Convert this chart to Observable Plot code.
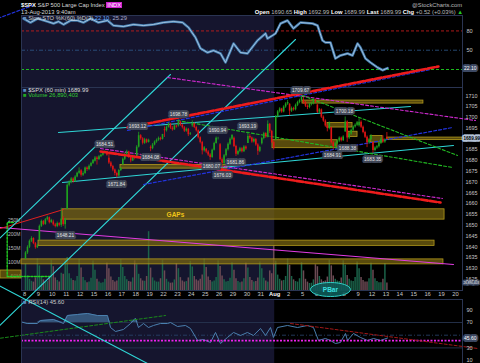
<!DOCTYPE html>
<html><head><meta charset="utf-8">
<script src="https://cdn.jsdelivr.net/npm/d3@7"></script>
<script src="https://cdn.jsdelivr.net/npm/@observablehq/plot@0.6"></script>
<style>
html,body{margin:0;padding:0;background:#000;}
#c{position:relative;width:480px;height:363px;overflow:hidden;background:#000;font-family:"Liberation Sans",Arial,sans-serif;}
#c svg{position:absolute;left:0;}
.t{position:absolute;white-space:nowrap;font-size:5.8px;line-height:6px;color:#d8d8d8;}
</style></head>
<body><div id="c"></div>
<script>
// ---------------- DATA ----------------
const dayLabels = ["8","9","10","11","12","15","16","17","18","19","22","23","24","25","26","29","30","31","Aug","2","5","6","7","8","9","12","13","14","15","16","19","20"];
const augIndex = 18;
const dayOpen = [1634.2,1642.89,1651.56,1657.41,1675.26,1679.69,1681.05,1677.91,1681.05,1686.15,1694.41,1696.06,1696.06,1685.21,1687.31,1690.32,1687.92,1687.76,1689.42,1706.10,1708.01,1705.79,1695.30,1693.35,1696.10,1688.37,1690.65];
const barClose = [
 [1637.2,1639.8,1642.6,1643.9,1641.5,1639.6,1640.5],
 [1649.5,1651.8,1650.4,1652.6,1653.5,1651.2,1652.3],
 [1650.2,1649.4,1650.8,1650.0,1652.9,1650.3,1652.6],
 [1668.5,1669.8,1671.5,1670.2,1672.4,1674.1,1675.0],
 [1673.2,1674.0,1676.5,1675.8,1677.4,1678.6,1680.2],
 [1681.2,1680.5,1681.8,1682.4,1683.5,1684.0,1682.5],
 [1678.9,1677.2,1675.6,1674.0,1672.8,1675.4,1676.3],
 [1680.6,1682.9,1684.0,1681.5,1679.8,1681.9,1680.9],
 [1686.2,1691.5,1690.1,1688.0,1689.6,1688.4,1689.4],
 [1685.5,1687.2,1688.6,1689.4,1690.3,1689.8,1692.1],
 [1693.8,1695.4,1696.9,1695.0,1694.2,1696.0,1695.5],
 [1697.9,1696.4,1695.2,1693.6,1694.5,1692.0,1692.4],
 [1697.0,1695.3,1693.8,1690.6,1688.4,1684.5,1685.9],
 [1684.0,1682.6,1681.4,1684.8,1687.9,1690.3,1690.3],
 [1680.4,1678.5,1682.2,1685.0,1687.6,1689.9,1691.7],
 [1686.5,1682.9,1684.2,1685.5,1684.1,1686.3,1685.3],
 [1691.2,1690.4,1688.6,1689.8,1687.2,1684.3,1686.0],
 [1690.2,1692.5,1691.0,1696.8,1693.5,1688.4,1685.7],
 [1700.3,1702.6,1703.9,1702.5,1704.8,1706.2,1706.9],
 [1702.9,1704.1,1703.5,1705.6,1706.9,1707.8,1709.7],
 [1706.8,1705.2,1704.6,1705.9,1706.4,1708.0,1707.1],
 [1702.4,1703.5,1700.1,1698.3,1696.0,1694.8,1697.4],
 [1688.2,1686.5,1687.8,1689.0,1690.4,1689.2,1690.9],
 [1697.9,1690.5,1692.3,1694.0,1695.5,1696.4,1697.5],
 [1697.8,1695.4,1693.0,1690.8,1688.2,1689.6,1691.4],
 [1684.6,1685.8,1686.4,1688.0,1689.9,1688.6,1689.5],
 [1689.99]
];
const barHigh = [
 [1637.8,1640.5,1643.2,1644.7,1644.2,1642.0,1641.2],
 [1650.1,1652.4,1652.2,1653.1,1654.2,1653.8,1652.8],
 [1652.4,1650.9,1651.5,1651.2,1657.9,1654.0,1653.2],
 [1669.2,1670.6,1672.1,1672.0,1673.0,1674.6,1676.6],
 [1675.8,1674.8,1677.0,1677.1,1678.0,1679.2,1680.2],
 [1681.9,1681.8,1682.4,1683.0,1684.1,1684.5,1684.3],
 [1683.7,1679.5,1677.8,1676.1,1674.6,1675.9,1676.9],
 [1681.2,1683.5,1684.8,1684.3,1682.0,1682.5,1682.2],
 [1686.9,1693.1,1692.0,1690.6,1690.3,1690.0,1689.9],
 [1686.8,1687.9,1689.1,1690.0,1690.9,1690.8,1692.1],
 [1695.6,1696.0,1697.6,1697.2,1695.7,1696.5,1696.4],
 [1698.8,1698.2,1696.9,1695.8,1695.1,1694.9,1693.0],
 [1698.4,1697.5,1695.9,1694.2,1691.0,1688.9,1686.5],
 [1685.6,1684.6,1683.2,1685.3,1688.5,1690.9,1690.8],
 [1687.9,1681.2,1682.8,1685.6,1688.2,1690.5,1691.9],
 [1690.9,1687.1,1684.8,1686.1,1686.0,1686.9,1686.8],
 [1693.2,1692.0,1690.9,1690.4,1690.2,1687.8,1686.6],
 [1690.8,1693.1,1692.9,1698.4,1697.2,1694.0,1689.0],
 [1700.9,1703.2,1704.5,1704.2,1705.4,1706.8,1707.9],
 [1706.3,1704.8,1704.7,1706.2,1707.5,1708.4,1709.7],
 [1709.2,1707.4,1705.8,1706.5,1707.0,1708.6,1708.5],
 [1705.8,1704.1,1703.9,1700.7,1698.9,1696.6,1697.9],
 [1695.3,1688.9,1688.4,1689.6,1691.0,1690.9,1691.5],
 [1700.2,1698.4,1693.0,1694.6,1696.1,1697.0,1698.1],
 [1699.4,1698.4,1696.0,1693.6,1691.4,1690.2,1692.0],
 [1688.4,1686.4,1687.0,1688.6,1690.5,1691.5,1690.1],
 [1692.99]
];
const barLow = [
 [1634.2,1636.5,1639.2,1642.0,1641.0,1638.9,1639.2],
 [1642.9,1649.0,1649.8,1650.0,1652.0,1650.6,1650.9],
 [1649.6,1648.8,1648.9,1649.3,1649.0,1649.5,1648.2],
 [1657.4,1667.8,1669.2,1669.5,1669.9,1672.0,1673.6],
 [1672.3,1672.6,1673.6,1675.0,1675.3,1677.0,1678.2],
 [1679.3,1677.9,1680.0,1681.3,1682.0,1683.2,1682.0],
 [1678.2,1676.5,1674.8,1672.9,1671.8,1672.5,1674.9],
 [1677.9,1680.0,1682.4,1680.9,1678.9,1679.5,1680.3],
 [1681.1,1685.8,1689.4,1687.2,1687.5,1687.8,1688.1],
 [1684.1,1685.0,1686.8,1688.0,1688.9,1689.1,1689.5],
 [1690.7,1693.2,1695.0,1694.4,1693.6,1694.0,1695.0],
 [1695.5,1695.8,1694.6,1693.0,1693.1,1691.1,1691.6],
 [1695.4,1694.8,1693.2,1690.0,1687.7,1682.6,1683.9],
 [1683.2,1681.9,1680.1,1681.0,1684.4,1687.6,1689.5],
 [1679.8,1676.0,1678.0,1681.6,1684.4,1687.0,1689.3],
 [1686.0,1681.9,1682.3,1683.6,1683.5,1683.7,1684.7],
 [1687.9,1689.8,1688.0,1688.1,1686.6,1682.4,1683.7],
 [1687.2,1689.6,1690.3,1690.5,1692.6,1687.8,1684.9],
 [1689.4,1699.7,1702.0,1701.9,1702.1,1704.2,1705.6],
 [1700.7,1702.3,1702.9,1703.0,1705.0,1706.3,1707.2],
 [1706.1,1704.6,1703.6,1704.0,1705.3,1705.8,1706.5],
 [1701.8,1701.6,1699.5,1697.7,1695.4,1693.3,1694.2],
 [1687.6,1684.9,1685.9,1687.2,1688.3,1688.6,1688.8],
 [1693.0,1688.4,1689.8,1691.7,1693.4,1695.0,1695.8],
 [1695.5,1694.8,1692.4,1690.2,1686.0,1687.6,1689.0],
 [1683.4,1684.0,1685.2,1685.8,1687.4,1688.0,1688.0],
 [1689.99]
];
const barVolM = [
 [95,52,40,33,30,45,112],[88,50,38,30,32,48,108],[85,45,36,30,62,58,110],
 [118,60,42,36,34,50,112],[80,46,35,28,30,44,105],[72,40,30,26,28,40,98],
 [78,48,36,30,34,46,110],[82,50,38,32,30,45,106],[92,58,42,34,33,50,210],
 [80,45,34,30,30,42,108],[70,40,30,26,27,38,96],[78,46,34,30,32,45,104],
 [84,50,38,34,40,55,112],[82,48,36,30,34,46,106],[86,52,38,30,32,44,100],
 [72,42,32,28,30,42,98],[80,46,36,30,32,45,102],[78,44,34,30,70,60,160],
 [105,55,40,34,36,50,112],[90,50,38,32,30,42,100],[70,40,30,25,26,38,92],
 [85,50,38,32,34,48,108],[88,52,40,34,32,45,106],[90,54,40,34,32,46,102],
 [78,46,36,30,30,42,98],[72,42,32,28,28,40,96],[26.89]
];
const barsPerDay = 7;

const hiLabels = [
 {t:5.76,p:1684.51},{t:8.13,p:1693.12},{t:11.08,p:1698.78},{t:13.88,p:1690.94},
 {t:16.04,p:1693.19},{t:19.86,p:1709.67},{t:23.02,p:1700.18}
];
const loLabels = [
 {t:2.95,p:1648.21},{t:6.62,p:1671.84},{t:9.07,p:1684.08},{t:13.45,p:1680.07},{t:14.24,p:1676.03},
 {t:15.18,p:1681.86},{t:22.16,p:1684.91},{t:23.24,p:1688.38},{t:25.04,p:1683.35}
];

// gap zones [t1, t2, p1, p2]
const gapZones = [
 [2.734,30.22,1652.62,1657.41],
 [1.007,29.5,1640.46,1642.89],
 [-0.216,30.14,1631.89,1634.2],
 [-1.727,-0.216,1625.34,1629.05],
 [6.906,14.6,1676.26,1677.91],
 [17.84,22.52,1685.73,1689.42],
 [20.0,28.7,1706.4,1707.8],
 [21.8,23.6,1695.30,1697.37],
 [23.3,23.96,1690.91,1693.35],
 [24.9,25.76,1688.37,1691.42],
 [26.1,31.5,1689.47,1690.65]
];

// trend lines: [[t,p],[t,p]]
const cyanLines = [
 [[-3,1636.5],[10.504,1719.87]],
 [[-3.9,1590.41],[19.496,1736.09]],
 [[-3,1625.93],[8.849,1585.95]],
 [[2.446,1692.99],[27.77,1705.04]],
 [[2.734,1669.82],[30.86,1686.97]]
];
const redThick = [
 [[7.41,1695.31],[29.78,1723.58]],
 [[5.468,1684.19],[29.93,1660.56]]
];
const redThin = [[[-1.727,1648.51],[2.806,1657.31]]];
const blueDashed = [
 [[7.41,1693.92],[29.21,1722.19]],
 [[8.561,1668.90],[30.79,1695.31]],
 [[-1.9,1745.9],[0.576,1751.84]]
];
const magentaDashed = [
 [[5.468,1685.58],[30.07,1662.41]],
 [[10.29,1718.48],[32.45,1698.55]]
];
const magentaSolid = [[[-1.727,1648.97],[30.86,1631.83]]];
const greenDashed = [
 [[20.0,1710.14],[31.15,1682.35]],
 [[11.0,1698.55],[30.79,1676.78]]
];
const greenBracket = [[-0.79,1651.29],[-1.245,1651.29],[-1.245,1626.27],[1.871,1626.27]];

const priceTicks = [1625,1630,1635,1640,1645,1650,1655,1660,1665,1670,1675,1680,1685,1695,1700,1705,1710];
const lastPrice = 1689.99;
const volTicksM = [50,100,150,200,250];
const lastVolume = "26,890,403";
const pbar = [{t:22.01,p:1620.24,label:"PBar"}];
const gapText = [{t:10.86,p:1654.9,label:"GAPs"}];

// Slow stochastic %K(60) %D(3)
const stoT = [-0.07,0.43,0.94,1.65,2.09,2.45,2.81,3.31,3.81,4.24,4.75,5.32,5.97,6.40,7.12,7.84,8.56,9.28,10.0,10.72,11.37,11.80,12.30,12.66,13.17,13.60,14.10,14.46,15.04,15.54,16.04,16.76,17.34,17.48,17.84,18.06,18.42,18.92,19.35,19.86,20.72,21.08,21.44,21.65,22.01,22.37,22.73,23.24,23.60,23.96,24.17,24.53,24.89,25.40,25.76,26.12];
const stoV = [99.3,93.1,99.3,94.6,91.5,94.6,90.0,96.2,96.2,93.1,99.3,93.1,96.2,88.4,86.9,90.0,88.4,90.0,93.1,94.6,93.1,85.3,69.8,52.7,46.4,49.5,44.9,30.9,60.4,46.4,44.9,65.1,76.0,68.2,72.9,76.0,91.5,96.2,83.8,93.1,91.5,88.4,65.1,62.0,62.0,37.1,41.8,44.9,41.8,60.4,54.2,37.1,30.9,23.1,18.9,22.1];
const stoLevels = [80,50,20];
const stoLast = 22.10;

// RSI(14)
const rsiT = [-0.17,0.19,0.91,1.15,2.09,2.81,3.09,3.81,4.53,5.25,5.97,6.19,6.55,7.12,7.63,7.99,8.20,8.56,8.92,9.28,9.78,10.29,10.50,11.01,11.58,11.94,12.45,12.88,13.38,13.74,14.10,14.60,15.04,15.54,16.04,16.47,16.98,17.34,17.70,17.91,18.20,18.92,19.64,20.36,20.79,21.15,21.65,22.01,22.37,22.73,23.09,23.24,23.67,24.17,24.68,25.11,25.61,26.12];
const rsiV = [70.5,68.4,68.4,73.1,74.7,68.4,81.0,82.6,84.2,81.0,81.0,62.1,55.8,59.0,68.4,76.3,62.1,68.4,62.1,65.3,68.4,68.4,70.0,63.7,65.3,60.6,41.7,43.2,38.5,54.3,36.9,46.4,54.3,49.5,54.3,49.5,60.6,49.5,62.1,46.4,62.1,65.3,62.1,65.3,62.1,41.7,44.8,41.7,36.9,38.5,52.7,41.7,52.7,46.4,41.7,44.8,41.7,45.6];
const rsiTicks = [90,70,30,10];
const rsiLast = 45.60;
const rsiMagenta = 41.5;
const rsiRedLine = [[19.14,68.4],[32.59,29.1]];
const rsiGreenLine = [[-1.727,45.3],[10.14,81.0]];

// ---------------- BUILD ----------------
const bars = [];
barClose.forEach((cl, d) => cl.forEach((c, j) => {
  const o = j === 0 ? dayOpen[d] : cl[j-1];
  bars.push({t: d + (j + 0.5)/barsPerDay, o, c, h: barHigh[d][j], l: barLow[d][j], v: barVolM[d][j], up: c >= o});
}));
const sto = stoT.map((t,i)=>({t, v: stoV[i]}));
const rsi = rsiT.map((t,i)=>({t, v: rsiV[i]}));
const seg = (arr) => arr.map((pts, k) => pts.map(([t,p]) => ({t, p, k}))).flat();

const XD = [-0.2158, 31.511];
const NAVY = "#15152e", FRAME = "#2a3452";
const C = document.getElementById("c");
const base = {width: 480, marginLeft: 21, marginRight: 18, marginTop: 0, marginBottom: 0,
  x: {domain: XD, axis: null}, color: {type: "identity"},
  style: {background: "transparent", overflow: "visible", fontFamily: "Liberation Sans, Arial, sans-serif"}};
function place(svg, top){ svg.style.top = top + "px"; svg.style.position = "absolute"; C.appendChild(svg); }
const lineMarks = (arr, opts) => Plot.line(seg(arr), {x:"t", y:"p", z:"k", clip:false, ...opts});
const num = d => String(d);

// --- STO panel
const STOD = [-8, 104];
place(Plot.plot({...base, height: 72, y: {domain: STOD, axis: null},
  marks: [
    Plot.rect([{a: XD[0], b: augIndex}], {x1:"a", x2:"b", y1: STOD[0], y2: STOD[1], fill: NAVY}),
    Plot.ruleY([stoLevels[0]], {stroke:"#c01c1c", strokeDasharray:"3,2", strokeWidth:0.9}),
    Plot.ruleY([stoLevels[1]], {stroke:"#2f5a8c", strokeDasharray:"4,2,1,2", strokeWidth:0.8}),
    Plot.ruleY([stoLevels[2]], {stroke:"#1ed01e", strokeDasharray:"3,2", strokeWidth:0.9}),
    Plot.line(sto, {x:"t", y:"v", stroke:"#3f78aa", strokeWidth:2.6}),
    Plot.line(sto, {x:"t", y:"v", stroke:"#cfe3f5", strokeWidth:0.7}),
    Plot.frame({stroke: FRAME}),
    Plot.text([80,50], {x: XD[1], y: d=>d, dx: 4, text: num, textAnchor:"start", fill:"#c8c8c8", fontSize: 5.6}),
    Plot.text([stoLast], {x: XD[1], y: d=>d, dx: 1.5, textAnchor:"start", text: d=>d.toFixed(2), fill:"#fff", stroke:"#3c4862", strokeWidth:4, paintOrder:"stroke", fontSize:5})
  ]}), 15);

// --- RSI panel (with date labels on top)
const RSID = [5.43, 106.2];
place(Plot.plot({...base, height: 73, marginTop: 9, y: {domain: RSID, axis: null},
  marks: [
    Plot.rect([{a: XD[0], b: augIndex}], {x1:"a", x2:"b", y1: RSID[0], y2: RSID[1], fill: NAVY}),
    Plot.ruleY([70, 30], {stroke:"#27344f", strokeWidth:0.9}),
    Plot.ruleY([50], {stroke:"#2b4670", strokeDasharray:"4,2,1,2", strokeWidth:0.8}),
    Plot.areaY(rsi, {x:"t", y1:70, y2: d => Math.max(d.v, 70), fill:"#3a5f86", fillOpacity:0.85}),
    Plot.line(rsi, {x:"t", y:"v", stroke:"#4a7fae", strokeWidth:1}),
    Plot.ruleY([rsiMagenta], {stroke:"#ee22ee", strokeDasharray:"2,1.5", strokeWidth:1.6}),
    Plot.line(rsiRedLine.map(([t,v])=>({t,v})), {x:"t", y:"v", stroke:"#a01818", strokeDasharray:"3,2", strokeWidth:1, clip:false}),
    Plot.line(rsiGreenLine.map(([t,v])=>({t,v})), {x:"t", y:"v", stroke:"#1a8a1a", strokeDasharray:"3,2", strokeWidth:1, clip:false}),
    Plot.frame({stroke: FRAME}),
    Plot.text(dayLabels.map((s,i)=>i).filter(i=>i!==augIndex), {x: d=>d, y: RSID[1], dy: -5, text: d=>dayLabels[d], fill:"#c8c8c8", fontSize:5.8}),
    Plot.text([augIndex], {x: d=>d, y: RSID[1], dy: -5, text: d=>dayLabels[d], fill:"#ffffff", fontWeight:"bold", fontSize:5.8}),
    Plot.text(rsiTicks, {x: XD[1], y: d=>d, dx: 4, text: num, textAnchor:"start", fill:"#c8c8c8", fontSize:5.6}),
    Plot.text([rsiLast], {x: XD[1], y: d=>d, dx: 1.5, textAnchor:"start", text: d=>d.toFixed(2), fill:"#fff", stroke:"#3c4862", strokeWidth:4, paintOrder:"stroke", fontSize:5})
  ]}), 290);

// --- Volume (under price)
const VOLD = [0, 725];
place(Plot.plot({...base, height: 203, y: {domain: VOLD, axis: null},
  marks: [
    Plot.rect([{a: XD[0], b: augIndex}], {x1:"a", x2:"b", y1: VOLD[0], y2: VOLD[1], fill: NAVY}),
    Plot.ruleX(bars, {x:"t", y1: 0, y2:"v", stroke: d => d.up ? "#1b6249" : "#6c4a54", strokeWidth: 1.5}),
    Plot.frame({stroke: FRAME}),
    Plot.text(volTicksM, {x: XD[0], y: d=>d, dx: -1, textAnchor:"end", text: d=>d+"M", fill:"#bcbcbc", fontSize:5}),
    Plot.text([26.89], {x: XD[1], y: d=>d, dx: 1, textAnchor:"start", text: ()=>lastVolume, fill:"#fff", stroke:"#3c4862", strokeWidth:3, paintOrder:"stroke", fontSize:3.1})
  ]}), 87);

// --- Price panel (top layer)
const PD = [1619.78, 1713.85];
const ellipse = {draw(ctx){ const rx=20, ry=7, k=0.5523;
  ctx.moveTo(rx,0); ctx.bezierCurveTo(rx,ry*k,rx*k,ry,0,ry); ctx.bezierCurveTo(-rx*k,ry,-rx,ry*k,-rx,0);
  ctx.bezierCurveTo(-rx,-ry*k,-rx*k,-ry,0,-ry); ctx.bezierCurveTo(rx*k,-ry,rx,-ry*k,rx,0); ctx.closePath(); }};
place(Plot.plot({...base, height: 203, y: {domain: PD, axis: null},
  marks: [
    Plot.rect(gapZones, {x1: d=>d[0], x2: d=>d[1], y1: d=>d[2], y2: d=>d[3], fill:"#7a6710", fillOpacity:0.72, stroke:"#b39a1c", strokeWidth:0.8, clip:false}),
    Plot.text(gapText, {x:"t", y:"p", text:"label", fill:"#f0c418", fontWeight:"bold", fontSize:6.5}),
    lineMarks(magentaSolid, {stroke:"#e23ce2", strokeWidth:1.2}),
    lineMarks(redThin, {stroke:"#e02020", strokeWidth:1}),
    Plot.line(greenBracket.map(([t,p])=>({t,p})), {x:"t", y:"p", stroke:"#22cc22", strokeDasharray:"2,1.5", strokeWidth:1.4, clip:false}),
    lineMarks(cyanLines, {stroke:"#2fd6d6", strokeWidth:1.1}),
    lineMarks(blueDashed, {stroke:"#2233dd", strokeDasharray:"3,2", strokeWidth:1.2}),
    lineMarks(magentaDashed, {stroke:"#d22ad2", strokeDasharray:"3,2", strokeWidth:1.1}),
    lineMarks(greenDashed, {stroke:"#22b822", strokeDasharray:"3,2", strokeWidth:1.1}),
    Plot.ruleX(bars, {x:"t", y1:"l", y2:"h", stroke: d => d.up ? "#1fa21f" : "#e01414", strokeWidth:0.8}),
    Plot.ruleX(bars, {x:"t", y1:"o", y2:"c", stroke: d => d.up ? "#1fa21f" : "#e01414", strokeWidth:1.6}),
    lineMarks(redThick, {stroke:"#ee1c1c", strokeDasharray:"7,2", strokeWidth:2.6}),
    Plot.text(hiLabels, {x:"t", y:"p", dy:-6, text: d=>d.p.toFixed(2), fill:"#e4e4e4", stroke:"#404758", strokeWidth:4, paintOrder:"stroke", fontSize:4.8}),
    Plot.text(loLabels, {x:"t", y:"p", dy:6, text: d=>d.p.toFixed(2), fill:"#e4e4e4", stroke:"#404758", strokeWidth:4, paintOrder:"stroke", fontSize:4.8}),
    Plot.text(priceTicks, {x: XD[1], y: d=>d, dx: 3, text: num, textAnchor:"start", fill:"#c8c8c8", fontSize:5.4}),
    Plot.text([lastPrice], {x: XD[1], y: d=>d, dx: 1, textAnchor:"start", text: d=>d.toFixed(2), fill:"#000", stroke:"#b4c2d6", strokeWidth:3.5, paintOrder:"stroke", fontWeight:"bold", fontSize:4.6}),
    Plot.dot(pbar, {x:"t", y:"p", symbol: ellipse, fill:"#0d5a58", fillOpacity:0.9, stroke:"#2fd0c8", strokeWidth:1, clip:false}),
    Plot.text(pbar, {x:"t", y:"p", text:"label", fill:"#3ae0e0", fontSize:6.5, fontWeight:"bold"})
  ]}), 87);

// --- header / panel labels (real text)
function txt(x, y, html, extra){ const d = document.createElement("div"); d.className="t"; d.style.left=x+"px"; d.style.top=y+"px"; d.innerHTML=html; if(extra) Object.assign(d.style, extra); C.appendChild(d); }
txt(21, 2, '<b style="color:#fff">$SPX</b> S&amp;P 500 Large Cap Index <span style="background:#d020d0;color:#fff;padding:0 1px">INDX</span>');
txt(21, 9, '13-Aug-2013 9:40am');
txt(0, 2, '@StockCharts.com', {left:"auto", right:"18px", color:"#bbb"});
txt(0, 9, '<b style="color:#fff">Open</b> 1690.65 <b style="color:#fff">High</b> 1692.99 <b style="color:#fff">Low</b> 1689.99 <b style="color:#fff">Last</b> 1689.99 <b style="color:#fff">Chg</b> +0.52 (+0.03%) <span style="color:#2c2">&#9650;</span>', {left:"auto", right:"17px", color:"#bbb"});
txt(23, 15, '<span style="color:#5a8ac0">&#9632;</span> Slow STO %K(60) %D(3) <span style="color:#6af">22.10</span>, <span style="color:#aac">25.29</span>', {color:"#ccc"});
txt(23, 87, '<span style="color:#5a8ac0">&#9632;</span> $SPX (60 min) 1689.99', {color:"#ddd"});
txt(23, 92, '<span style="color:#2a2">&#9632;</span> Volume 26,890,403', {color:"#3c3"});
txt(23, 299, '<span style="color:#5a8ac0">&#9632;</span> RSI(14) 45.60', {color:"#ccc"});
</script>
</body></html>
